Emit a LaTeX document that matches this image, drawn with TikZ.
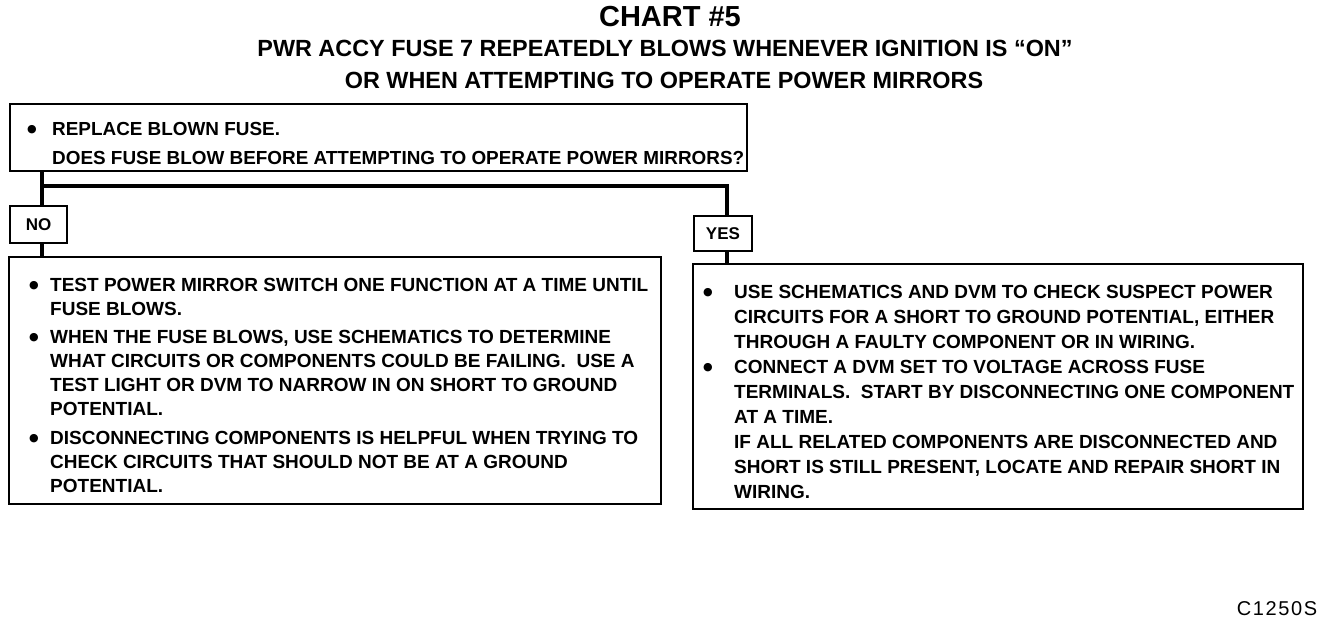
\documentclass[tikz,border=0pt]{standalone}
\usepackage{fontspec}
\setmainfont{Liberation Sans}
\newfontfamily\codefont{Liberation Sans}[LetterSpace=8]
\newfontfamily\dotfont{DejaVu Sans}
\newcommand{\bul}{\raisebox{3pt}{\dotfont\fontsize{11}{11}\selectfont ●}}
\begin{document}
\begin{tikzpicture}[x=1pt,y=-1pt,
  box/.style={draw, line width=2pt, inner sep=0pt, anchor=north west},
  lbl/.style={box, font=\bfseries\fontsize{17}{17}\selectfont},
  conn/.style={line width=4.5pt, line join=miter},
  body/.style={anchor=base west, inner sep=0pt, align=left},
  ttl/.style={inner sep=0pt, font=\bfseries\fontsize{23.4}{24}\selectfont}]
\useasboundingbox (0,0) rectangle (1344,626);

% titles
\node[inner sep=0pt, font=\bfseries\fontsize{29}{29}\selectfont] (t1) at (670,17) {CHART \#5};
\node[ttl] (t2) at (665,48) {PWR ACCY FUSE 7 REPEATEDLY BLOWS WHENEVER IGNITION IS “ON”};
\node[ttl] (t3) at (664,80) {OR WHEN ATTEMPTING TO OPERATE POWER MIRRORS};

% question box
\node[box, minimum width=737pt, minimum height=67pt] (q) at (9,103) {};
\node[body, font=\bfseries\fontsize{18.9}{29}\selectfont] (qt) at (27,135)
  {\begin{tabular}[t]{@{}p{25pt}@{}l@{}}\bul&REPLACE BLOWN FUSE.\\ &DOES FUSE BLOW BEFORE ATTEMPTING TO OPERATE POWER MIRRORS?\end{tabular}};

% answer labels
\node[lbl, minimum width=57pt, minimum height=37pt] (no) at (9,205) {NO};
\node[lbl, minimum width=58pt, minimum height=35pt] (yes) at (693,215) {YES};

% result boxes
\node[box, minimum width=652pt, minimum height=247pt] (nob) at (8,256) {};
\node[box, minimum width=610pt, minimum height=245pt] (yesb) at (692,263) {};

\node[body, font=\bfseries\fontsize{19}{24}\selectfont] (not) at (29,291)
  {\begin{tabular}[t]{@{}p{21pt}@{}l@{}}
  \bul&TEST POWER MIRROR SWITCH ONE FUNCTION AT A TIME UNTIL\\
  &FUSE BLOWS.\\[4.5pt]
  \bul&WHEN THE FUSE BLOWS, USE SCHEMATICS TO DETERMINE\\
  &WHAT CIRCUITS OR COMPONENTS COULD BE FAILING.\ \ USE A\\
  &TEST LIGHT OR DVM TO NARROW IN ON SHORT TO GROUND\\
  &POTENTIAL.\\[4.5pt]
  \bul&DISCONNECTING COMPONENTS IS HELPFUL WHEN TRYING TO\\
  &CHECK CIRCUITS THAT SHOULD NOT BE AT A GROUND\\
  &POTENTIAL.
  \end{tabular}};

\node[body, font=\bfseries\fontsize{19}{25}\selectfont] (yest) at (703,298)
  {\begin{tabular}[t]{@{}p{31pt}@{}l@{}}
  \bul&USE SCHEMATICS AND DVM TO CHECK SUSPECT POWER\\
  &CIRCUITS FOR A SHORT TO GROUND POTENTIAL, EITHER\\
  &THROUGH A FAULTY COMPONENT OR IN WIRING.\\
  \bul&CONNECT A DVM SET TO VOLTAGE ACROSS FUSE\\
  &TERMINALS.\ \ START BY DISCONNECTING ONE COMPONENT\\
  &AT A TIME.\\
  &IF ALL RELATED COMPONENTS ARE DISCONNECTED AND\\
  &SHORT IS STILL PRESENT, LOCATE AND REPAIR SHORT IN\\
  &WIRING.
  \end{tabular}};

% connectors
\coordinate (j) at (42,186);
\draw[conn] ([xshift=33pt]q.south west) -- ([xshift=33pt]no.north west);
\draw[conn] (j) -| ([xshift=34pt]yes.north west);
\draw[conn] ([xshift=33pt]no.south west) -- ([xshift=34pt]nob.north west);
\draw[conn] ([xshift=34pt]yes.south west) -- ([xshift=35pt]yesb.north west);

\node[inner sep=0pt, font=\codefont\fontsize{20}{20}\selectfont] (code) at (1277,609) {C1250S};
\end{tikzpicture}
\end{document}
